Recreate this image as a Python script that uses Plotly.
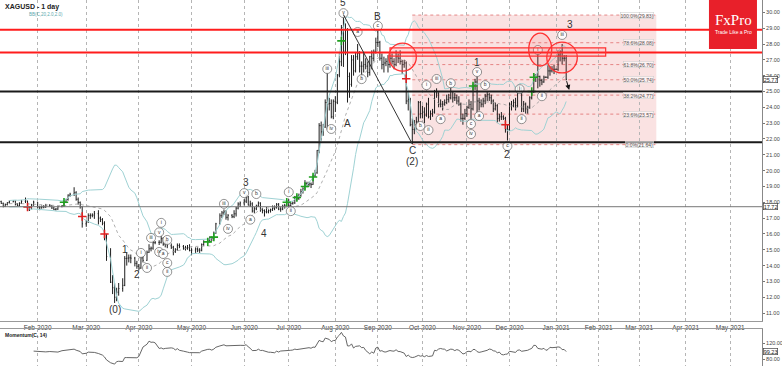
import pandas as pd
import plotly.graph_objects as go
from plotly.subplots import make_subplots

# ---------------- data ----------------
first_day, last_day = "2020-01-13", "2021-01-08"

opens = [
    18.05, 17.93, 17.74, 17.86, 17.98,  18.03, 18.08, 17.88, 17.80, 17.93,
    18.06, 18.08, 17.52, 17.66, 17.83,  18.01, 17.70, 17.65, 17.70, 17.70,
    17.81, 17.77, 17.64, 17.54, 17.57,  17.73, 17.78, 18.00, 18.18, 18.45,
    18.51, 18.60, 18.19, 17.99, 17.72,  16.64, 16.76, 17.16, 17.18, 17.19,
    17.28, 17.00, 16.91, 16.68, 15.87,  14.57, 12.95, 12.60, 12.00, 12.32,
    12.55, 12.75, 14.45, 14.47, 14.49,  14.47, 14.14, 13.96, 13.84, 14.49,
    14.33, 14.84, 15.06, 15.10, 15.45,  15.47, 15.47, 15.70, 15.35, 15.52,
    15.25, 15.16, 14.88, 15.00, 15.27,  15.21, 15.11, 15.11, 15.13, 14.95,
    14.98, 15.05, 14.98, 14.97, 15.33,  15.50, 15.61, 15.75, 15.73, 16.06,
    16.64, 17.15, 17.33, 17.39, 17.05,  17.18, 17.09, 17.27, 17.63, 17.89,
    17.96, 18.07, 18.34, 17.82, 17.90,  17.45, 17.59, 17.77, 17.95, 17.53,
    17.48, 17.40, 17.39, 17.47, 17.52,  17.62, 17.66, 17.87, 17.57, 17.57,
    17.75, 17.80, 18.05, 17.79, 17.93,  17.96, 18.34, 18.23, 18.44, 18.67,
    18.84, 19.19, 19.13, 19.16, 19.12,  19.68, 19.86, 21.28, 22.84, 22.45,
    22.75, 24.30, 24.21, 24.24, 23.40,  24.38, 24.32, 26.04, 26.88, 29.04,
    27.55, 28.90, 25.95, 25.45, 27.00,  26.30, 27.20, 27.40, 26.60, 26.60,
    26.70, 26.60, 26.20, 27.20, 27.10,  27.50, 28.10, 28.10, 27.10, 26.70,
    26.80, 26.90, 26.70, 27.10, 26.90,  26.70, 27.20, 27.10, 26.90, 26.70,
    26.80, 24.40, 24.50, 22.90, 22.60,  22.90, 23.10, 24.30, 23.60, 23.70,
    23.50, 24.20, 23.40, 23.60, 23.70,  25.00, 24.90, 24.20, 24.20, 24.20,
    24.30, 24.50, 24.60, 25.00, 24.60,  24.60, 24.40, 24.20, 23.30, 23.30,
    23.60, 24.00, 24.20, 23.90, 25.40,  25.60, 24.40, 24.30, 24.20, 24.40,
    24.70, 24.80, 24.60, 24.40, 23.90,  24.10, 23.30, 23.40, 23.40, 23.30,
    22.60, 22.60, 24.20, 24.10, 24.30,  24.10, 25.30, 25.20, 23.90, 24.20,
    23.90, 24.00, 24.60, 25.00, 26.00,  25.90, 25.95, 25.70, 25.60, 25.90,
    25.90, 26.30, 26.30, 26.40, 26.40,  26.40, 27.30, 27.50, 27.10, 27.10,
]
highs = [
    18.10, 17.98, 17.92, 18.00, 18.12,  18.12, 18.10, 17.95, 18.00, 18.15,
    18.30, 18.10, 17.75, 17.90, 18.10,  18.02, 17.78, 17.80, 17.82, 17.90,
    17.88, 17.82, 17.70, 17.64, 17.78,  17.82, 18.05, 18.22, 18.50, 18.60,
    18.95, 18.70, 18.30, 18.05, 17.75,  16.90, 17.30, 17.30, 17.30, 17.45,
    17.50, 17.10, 17.00, 16.80, 16.00,  15.10, 13.40, 12.90, 12.60, 12.90,
    13.20, 14.60, 14.85, 14.70, 14.70,  14.55, 14.30, 14.10, 14.55, 14.60,
    14.95, 15.35, 15.20, 15.60, 15.55,  15.60, 15.95, 15.80, 15.60, 15.60,
    15.40, 15.25, 15.10, 15.40, 15.40,  15.30, 15.25, 15.30, 15.35, 15.10,
    15.15, 15.15, 15.10, 15.40, 15.60,  15.70, 15.85, 15.85, 16.15, 16.70,
    17.30, 17.45, 17.55, 17.50, 17.25,  17.25, 17.50, 17.70, 18.00, 18.05,
    18.20, 18.50, 18.40, 18.10, 18.00,  17.70, 17.85, 18.05, 18.00, 17.65,
    17.55, 17.70, 17.55, 17.60, 17.80,  17.80, 17.95, 17.95, 17.70, 17.85,
    17.90, 18.15, 18.20, 18.00, 18.05,  18.40, 18.45, 18.55, 18.85, 18.95,
    19.40, 19.30, 19.30, 19.25, 19.75,  20.05, 21.30, 23.00, 23.10, 22.95,
    24.50, 26.20, 24.60, 24.50, 24.50,  24.70, 26.10, 27.50, 29.20, 29.86,
    29.30, 29.00, 26.20, 27.30, 27.30,  27.50, 28.00, 27.55, 26.90, 27.45,
    27.10, 26.90, 27.25, 27.60, 27.65,  28.40, 28.90, 28.20, 27.40, 27.20,
    27.10, 27.30, 27.30, 27.40, 27.10,  27.60, 27.40, 27.60, 27.00, 27.00,
    26.90, 25.00, 24.60, 23.30, 23.20,  23.40, 24.40, 24.40, 24.10, 24.00,
    24.30, 24.60, 23.80, 23.90, 25.10,  25.20, 24.95, 24.50, 24.40, 24.50,
    24.80, 24.85, 25.30, 25.00, 24.90,  24.80, 24.70, 24.30, 23.60, 23.90,
    24.10, 24.50, 24.40, 25.50, 25.80,  25.95, 24.60, 24.50, 24.60, 24.85,
    25.00, 24.90, 24.80, 24.50, 24.30,  24.20, 23.60, 23.70, 23.50, 23.40,
    22.90, 24.30, 24.40, 24.50, 24.60,  25.40, 25.40, 25.30, 24.40, 24.30,
    24.10, 24.70, 25.10, 26.10, 26.10,  27.40, 26.00, 25.80, 26.00, 25.95,
    26.70, 26.60, 26.60, 26.70, 26.45,  27.60, 27.60, 28.00, 27.30, 27.30,
]
lows = [
    17.90, 17.68, 17.70, 17.80, 17.92,  18.00, 17.80, 17.74, 17.72, 17.90,
    17.95, 17.48, 17.45, 17.55, 17.78,  17.60, 17.50, 17.60, 17.62, 17.65,
    17.70, 17.58, 17.50, 17.48, 17.52,  17.68, 17.72, 17.95, 18.10, 18.35,
    18.40, 18.10, 17.85, 17.60, 16.40,  16.45, 16.70, 16.95, 17.05, 16.95,
    16.60, 16.75, 16.55, 15.60, 14.30,  12.90, 12.20, 11.64, 11.75, 12.10,
    12.35, 12.70, 14.00, 14.20, 14.15,  13.95, 13.80, 13.70, 13.80, 14.20,
    14.30, 14.80, 14.90, 15.00, 15.35,  15.30, 15.40, 15.25, 15.15, 15.10,
    15.05, 14.65, 14.80, 14.95, 15.10,  15.00, 14.95, 15.00, 14.90, 14.65,
    14.80, 14.85, 14.80, 14.90, 15.25,  15.40, 15.45, 15.55, 15.65, 16.00,
    16.60, 17.00, 17.20, 16.90, 16.85,  17.00, 17.00, 17.10, 17.55, 17.70,
    17.80, 17.95, 17.80, 17.70, 17.35,  17.30, 17.50, 17.70, 17.40, 17.30,
    17.10, 17.30, 17.30, 17.35, 17.45,  17.50, 17.60, 17.50, 17.40, 17.50,
    17.60, 17.75, 17.70, 17.75, 17.85,  17.90, 18.10, 18.15, 18.35, 18.55,
    18.80, 18.95, 19.00, 18.90, 19.10,  19.60, 19.80, 21.10, 21.90, 22.20,
    22.70, 22.60, 23.80, 23.30, 23.25,  23.70, 24.20, 25.90, 26.60, 26.55,
    27.30, 24.30, 24.60, 25.30, 26.00,  26.20, 27.00, 26.20, 25.80, 26.20,
    26.40, 25.90, 26.00, 26.40, 26.90,  27.40, 27.80, 26.95, 26.40, 26.20,
    26.60, 26.20, 26.50, 26.70, 26.40,  26.60, 26.80, 26.70, 26.10, 26.50,
    24.20, 23.80, 22.80, 21.68, 22.30,  22.60, 23.00, 23.30, 23.30, 23.00,
    23.40, 23.30, 23.20, 23.40, 23.60,  24.60, 24.00, 24.00, 23.80, 24.10,
    24.20, 24.30, 24.50, 24.30, 24.40,  24.20, 24.10, 23.10, 22.90, 23.20,
    23.40, 23.90, 23.20, 23.80, 25.10,  23.60, 23.80, 24.00, 24.00, 24.20,
    24.40, 24.40, 24.20, 23.70, 23.80,  23.00, 23.10, 23.20, 23.20, 22.40,
    21.90, 22.50, 23.80, 24.00, 23.80,  24.00, 24.90, 23.70, 23.70, 23.60,
    23.60, 23.90, 24.50, 24.90, 25.60,  25.20, 25.30, 25.40, 25.55, 25.85,
    25.80, 26.00, 26.20, 26.10, 26.35,  26.30, 26.90, 26.70, 26.90, 25.70,
]
closes = [
    17.93, 17.74, 17.86, 17.98, 18.03,  18.08, 17.88, 17.80, 17.93, 18.06,
    18.08, 17.52, 17.66, 17.83, 18.01,  17.70, 17.65, 17.70, 17.70, 17.81,
    17.77, 17.64, 17.54, 17.57, 17.73,  17.78, 18.00, 18.18, 18.45, 18.51,
    18.60, 18.19, 17.99, 17.72, 16.64,  16.76, 17.16, 17.18, 17.19, 17.28,
    17.00, 16.91, 16.68, 15.87, 14.57,  12.95, 12.60, 12.00, 12.32, 12.55,
    12.75, 14.45, 14.47, 14.49, 14.47,  14.14, 13.96, 13.84, 14.49, 14.33,
    14.84, 15.06, 15.10, 15.45, 15.47,  15.47, 15.70, 15.35, 15.52, 15.25,
    15.16, 14.88, 15.00, 15.27, 15.21,  15.11, 15.11, 15.13, 14.95, 14.98,
    15.05, 14.98, 14.97, 15.33, 15.50,  15.61, 15.75, 15.73, 16.06, 16.64,
    17.15, 17.33, 17.39, 17.05, 17.18,  17.09, 17.27, 17.63, 17.89, 17.96,
    18.07, 18.34, 17.82, 17.90, 17.45,  17.59, 17.77, 17.95, 17.53, 17.48,
    17.40, 17.39, 17.47, 17.52, 17.62,  17.66, 17.87, 17.57, 17.57, 17.75,
    17.80, 18.05, 17.79, 17.93, 17.96,  18.34, 18.23, 18.44, 18.67, 18.84,
    19.19, 19.13, 19.16, 19.12, 19.68,  19.86, 21.28, 22.84, 22.45, 22.75,
    24.30, 24.21, 24.24, 23.40, 24.38,  24.32, 26.04, 26.88, 29.04, 27.55,
    28.90, 25.95, 25.45, 27.00, 26.30,  27.20, 27.40, 26.60, 26.60, 26.70,
    26.60, 26.20, 27.20, 27.10, 27.50,  28.10, 28.10, 27.10, 26.70, 26.80,
    26.90, 26.70, 27.10, 26.90, 26.70,  27.20, 27.10, 26.90, 26.70, 26.80,
    24.40, 24.50, 22.90, 22.60, 22.90,  23.10, 24.30, 23.60, 23.70, 23.50,
    24.20, 23.40, 23.60, 23.70, 25.00,  24.90, 24.20, 24.20, 24.20, 24.30,
    24.50, 24.60, 25.00, 24.60, 24.60,  24.40, 24.20, 23.30, 23.30, 23.60,
    24.00, 24.20, 23.90, 25.40, 25.60,  24.40, 24.30, 24.20, 24.40, 24.70,
    24.80, 24.60, 24.40, 23.90, 24.10,  23.30, 23.40, 23.40, 23.30, 22.60,
    22.60, 24.20, 24.10, 24.30, 24.10,  25.30, 25.20, 23.90, 24.20, 23.90,
    24.00, 24.60, 25.00, 26.00, 25.90,  25.95, 25.70, 25.60, 25.90, 25.90,
    26.30, 26.30, 26.40, 26.40, 26.40,  27.30, 27.50, 27.10, 27.10, 25.77,
]

month_ticks = ["2020-02-03", "2020-03-02", "2020-04-01", "2020-05-01", "2020-06-01",
               "2020-07-01", "2020-08-03", "2020-09-01", "2020-10-01", "2020-11-02",
               "2020-12-01", "2021-01-01", "2021-02-01", "2021-03-01", "2021-04-01",
               "2021-05-03"]
month_labels = ["Feb-2020", "Mar-2020", "Apr-2020", "May-2020", "Jun-2020", "Jul-2020",
                "Aug-2020", "Sep-2020", "Oct-2020", "Nov-2020", "Dec-2020", "Jan-2021",
                "Feb-2021", "Mar-2021", "Apr-2021", "May-2021"]
price_ticks = list(range(11, 31))
mom_ticks = [80, 120]

red_levels = [28.90, 27.47]
black_levels = [25.00, 21.80]
grey_level = 17.72
last_price = 25.77
last_mom = 99.23

fib_prices = [29.83, 28.08, 26.70, 25.74, 24.77, 23.57, 21.64]
fib_labels = ["100.0%(29.83)", "78.6%(28.08)", "61.8%(26.70)", "50.0%(25.74)",
              "38.2%(24.77)", "23.6%(23.57)", "0.0%(21.64)"]
fib_start, fib_end = "2020-09-24", "2021-03-11 12:00"

wave_text = ["(0)", "1", "2", "3", "4", "5", "A", "B", "C", "(2)", "1", "2", "3"]
wave_dates = ["2020-03-18", "2020-03-24", "2020-03-31", "2020-06-02", "2020-06-15",
              "2020-08-07", "2020-08-11", "2020-09-01", "2020-09-24", "2020-09-24",
              "2020-11-09", "2020-11-30", "2021-01-12"]
wave_prices = [11.2, 15.0, 13.45, 19.25, 16.0, 30.6, 23.0, 29.75, 21.3, 20.6,
               26.85, 21.0, 29.26]

circ_text = ["i", "ii", "iii", "v", "i", "b", "iv", "a", "c", "ii",
             "iii", "iv", "v", "a", "b", "i", "ii", "iii", "iv", "v",
             "a", "b", "c", "b", "i", "ii", "iii", "a", "b", "c",
             "iv", "v", "a", "b", "c", "i", "ii", "i", "ii", "iii"]
circ_dates = ["2020-04-02", "2020-04-06", "2020-04-08", "2020-04-13", "2020-04-14",
              "2020-04-17", "2020-04-13", "2020-04-15", "2020-04-17", "2020-04-17",
              "2020-05-20", "2020-05-22", "2020-06-01", "2020-06-04", "2020-06-09",
              "2020-07-01", "2020-07-02", "2020-07-28", "2020-07-30", "2020-08-07",
              "2020-08-18", "2020-08-20", "2020-09-01", "2020-09-30", "2020-10-05",
              "2020-10-06", "2020-10-12", "2020-10-14", "2020-10-21", "2020-11-04",
              "2020-11-04", "2020-11-09", "2020-11-10", "2020-11-13", "2020-11-30",
              "2020-12-08", "2020-12-09", "2020-12-21", "2020-12-23", "2021-01-06"]
circ_prices = [14.8, 13.85, 15.75, 16.1, 16.7, 15.62, 14.86, 14.73, 14.16, 13.6,
               17.9, 16.32, 18.58, 16.9, 18.52, 18.64, 17.44, 26.42, 22.63, 29.95,
               28.76, 25.78, 29.14, 22.82, 25.4, 22.56, 25.79, 23.25, 25.52, 22.94,
               22.31, 26.23, 23.45, 25.4, 21.55, 25.15, 23.25, 27.62, 24.7, 28.57]

green_dates = ["2020-02-18", "2020-05-11", "2020-05-14", "2020-06-30", "2020-07-07",
               "2020-07-13", "2020-07-17", "2020-08-06", "2020-11-05", "2020-12-16",
               "2020-12-17"]
green_prices = [18.0, 15.5, 15.8, 18.0, 18.3, 19.0, 19.6, 28.2, 25.35, 25.0, 25.9]
red_dates = ["2020-01-28", "2020-02-28", "2020-03-12", "2020-09-21", "2020-11-27"]
red_prices = [17.7, 17.1, 16.0, 25.8, 22.9]

# ---------------- derived series ----------------
dates = pd.bdate_range(first_day, last_day)
close_s = pd.Series(closes, index=dates)
bb_mid = close_s.rolling(20, min_periods=5).mean()
bb_sd = close_s.rolling(20, min_periods=5).std(ddof=0)
bb_up = bb_mid + 2 * bb_sd
bb_lo = bb_mid - 2 * bb_sd
momentum = close_s / close_s.shift(14) * 100

sundays = [d.strftime("%Y-%m-%d") for d in pd.date_range("2020-06-07", "2021-06-06", freq="W-SUN")]
rbreaks = [dict(bounds=["sat", "sun"]), dict(values=sundays, dvalue=86400000)]

FONT = "Liberation Sans, Arial, sans-serif"

fig = make_subplots(rows=2, cols=1, shared_xaxes=True, vertical_spacing=0.02)

fig.add_trace(go.Scatter(x=dates, y=bb_up, mode="lines",
                         line=dict(color="#9fd2d4", width=1), hoverinfo="skip"), row=1, col=1)
fig.add_trace(go.Scatter(x=dates, y=bb_lo, mode="lines",
                         line=dict(color="#9fd2d4", width=1), hoverinfo="skip"), row=1, col=1)
fig.add_trace(go.Scatter(x=dates, y=bb_mid, mode="lines",
                         line=dict(color="#9a9a9a", width=0.8, dash="dot"), hoverinfo="skip"), row=1, col=1)

fig.add_trace(go.Ohlc(x=dates, open=opens, high=highs, low=lows, close=closes,
                      increasing=dict(line=dict(color="#1e1e1e", width=1)),
                      decreasing=dict(line=dict(color="#1e1e1e", width=1)),
                      tickwidth=0.35, hoverinfo="skip"), row=1, col=1)

fig.add_trace(go.Scatter(x=green_dates, y=green_prices, mode="markers",
                         marker=dict(symbol="cross-thin", size=6,
                                     line=dict(color="#1fa01f", width=1.6)),
                         hoverinfo="skip"), row=1, col=1)
fig.add_trace(go.Scatter(x=red_dates, y=red_prices, mode="markers",
                         marker=dict(symbol="cross-thin", size=6,
                                     line=dict(color="#e02020", width=1.6)),
                         hoverinfo="skip"), row=1, col=1)

fig.add_trace(go.Scatter(x=circ_dates, y=circ_prices, mode="markers+text",
                         text=circ_text, textposition="middle center",
                         textfont=dict(size=5, color="#333", family=FONT),
                         marker=dict(symbol="circle", size=9, color="rgba(255,255,255,0.85)",
                                     line=dict(color="#666", width=0.7)),
                         hoverinfo="skip"), row=1, col=1)

fig.add_trace(go.Scatter(x=dates, y=momentum, mode="lines",
                         line=dict(color="#555", width=0.9), hoverinfo="skip"), row=2, col=1)

shapes = []
# Fibonacci zone
shapes.append(dict(type="rect", xref="x", yref="y", x0=fib_start, x1=fib_end,
                   y0=fib_prices[-1], y1=fib_prices[0], fillcolor="rgba(238,160,160,0.30)",
                   line=dict(width=0), layer="below"))
for p in fib_prices:
    shapes.append(dict(type="line", xref="x", yref="y", x0=fib_start, x1=fib_end, y0=p, y1=p,
                       line=dict(color="rgba(215,70,70,0.75)", width=0.8, dash="dot"), layer="below"))
# horizontal levels
for p in red_levels:
    shapes.append(dict(type="line", xref="paper", yref="y", x0=0, x1=1, y0=p, y1=p,
                       line=dict(color="#ff1c1c", width=2)))
for p in black_levels:
    shapes.append(dict(type="line", xref="paper", yref="y", x0=0, x1=1, y0=p, y1=p,
                       line=dict(color="#1a1a1a", width=2)))
shapes.append(dict(type="line", xref="paper", yref="y", x0=0, x1=1, y0=grey_level, y1=grey_level,
                   line=dict(color="#777", width=1)))
# trend line 5 -> C
shapes.append(dict(type="line", xref="x", yref="y", x0="2020-08-07", y0=29.86,
                   x1="2020-09-24", y1=21.68, line=dict(color="#333", width=1)))
# resistance band
shapes.append(dict(type="rect", xref="x", yref="y", x0="2020-09-09", x1="2021-02-04 12:00",
                   y0=27.24, y1=27.76, line=dict(color="#ff3030", width=1.2),
                   fillcolor="rgba(255,90,90,0.10)"))
# circles
for x0, x1, y0, y1 in [("2020-09-08 10:00", "2020-09-28", 26.29, 28.06),
                       ("2020-12-14 12:00", "2020-12-29 21:00", 26.61, 28.69),
                       ("2020-12-25 10:00", "2021-01-15 12:00", 26.17, 28.12)]:
    shapes.append(dict(type="circle", xref="x", yref="y", x0=x0, x1=x1, y0=y0, y1=y1,
                       line=dict(color="#ff3030", width=1.3), fillcolor="rgba(255,80,80,0.12)"))
# FxPro logo box
shapes.append(dict(type="rect", xref="paper", yref="paper", x0=0.9304, x1=0.9934,
                   y0=0.866, y1=1.0, fillcolor="#e8202a", line=dict(width=0)))

annotations = []
for t, d, p in zip(wave_text, wave_dates, wave_prices):
    annotations.append(dict(x=d, y=p, xref="x", yref="y", text=t, showarrow=False,
                            xanchor="center", yanchor="middle",
                            font=dict(size=10, color="#333", family=FONT)))
for t, p in zip(fib_labels, fib_prices):
    annotations.append(dict(x=fib_end, y=p, xref="x", yref="y", text=t, showarrow=False,
                            xanchor="right", yanchor="middle", xshift=-2,
                            font=dict(size=5, color="#555", family=FONT),
                            bgcolor="rgba(255,255,255,0.55)", bordercolor="#c8c8c8",
                            borderwidth=0.5, borderpad=0))
annotations.append(dict(x="2021-01-11 12:00", y=25.1, ax="2021-01-08", ay=25.75,
                        xref="x", yref="y", axref="x", ayref="y", text="", showarrow=True,
                        arrowhead=2, arrowsize=1, arrowwidth=1, arrowcolor="#111"))
annotations.append(dict(x=0.962, y=0.945, xref="paper", yref="paper", text="FxPro",
                        showarrow=False, xanchor="center", yanchor="middle",
                        font=dict(size=15, color="white",
                                  family="Liberation Serif, DejaVu Serif, serif")))
annotations.append(dict(x=0.962, y=0.913, xref="paper", yref="paper", text="Trade Like a Pro",
                        showarrow=False, xanchor="center", yanchor="middle",
                        font=dict(size=5, color="white", family=FONT)))
annotations.append(dict(x=0.004, y=0.998, xref="paper", yref="paper", text="<b>XAGUSD - 1 day</b>",
                        showarrow=False, xanchor="left", yanchor="top",
                        font=dict(size=7, color="#222", family=FONT)))
annotations.append(dict(x=0.036, y=0.972, xref="paper", yref="paper", text="BB(C,20,2.0,2.0)",
                        showarrow=False, xanchor="left", yanchor="top",
                        font=dict(size=4.5, color="#5aa9ad", family=FONT)))
annotations.append(dict(x=0.004, y=0.098, xref="paper", yref="paper", text="<b>Momentum(C, 14)</b>",
                        showarrow=False, xanchor="left", yanchor="top",
                        font=dict(size=5, color="#222", family=FONT)))
for val, yr in [(last_price, "y"), (grey_level, "y"), (last_mom, "y2")]:
    annotations.append(dict(x=1, y=val, xref="paper", yref=yr, text=f"{val:.2f}",
                            showarrow=False, xanchor="left", yanchor="middle", xshift=1,
                            font=dict(size=5.5, color="#222", family=FONT),
                            bgcolor="white", bordercolor="#444", borderwidth=0.7, borderpad=0))

fig.update_layout(
    width=782, height=366, margin=dict(l=0, r=20, t=0, b=0, autoexpand=False),
    paper_bgcolor="white", plot_bgcolor="white", showlegend=False, hovermode=False,
    shapes=shapes, annotations=annotations,
)
xr = ["2020-01-12 09:36", "2021-05-24 16:48"]
axis_common = dict(range=xr, rangebreaks=rbreaks, tickmode="array", tickvals=month_ticks,
                   ticktext=month_labels, showgrid=True, gridcolor="#b5b5b5", griddash="dot",
                   gridwidth=1, showline=True, linecolor="#9a9a9a", mirror=True, ticks="",
                   rangeslider=dict(visible=False), zeroline=False, automargin=False)
yfont = dict(size=5.5, color="#444", family=FONT)
fig.update_layout(
    xaxis=dict(**axis_common, showticklabels=True,
               tickfont=dict(size=6.5, color="#444", family=FONT)),
    xaxis2=dict(**axis_common, showticklabels=False),
    yaxis=dict(domain=[0.123, 1], range=[10.5, 30.78], side="right", tickmode="array",
               tickvals=price_ticks, tickformat=".2f", ticks="outside", ticklen=2,
               tickcolor="#777", tickfont=yfont, automargin=False,
               showgrid=False, zeroline=False, showline=True, linecolor="#888"),
    yaxis2=dict(domain=[0, 0.101], range=[63, 156], side="right", tickmode="array",
                tickvals=mom_ticks, tickformat=".2f", ticks="outside", ticklen=2,
                tickcolor="#777", tickfont=yfont, automargin=False,
                showgrid=False, zeroline=False, showline=True, linecolor="#888"),
)

fig.write_html("out.html", config={"displayModeBar": False, "staticPlot": True},
               post_script="document.body.style.margin='0';")
